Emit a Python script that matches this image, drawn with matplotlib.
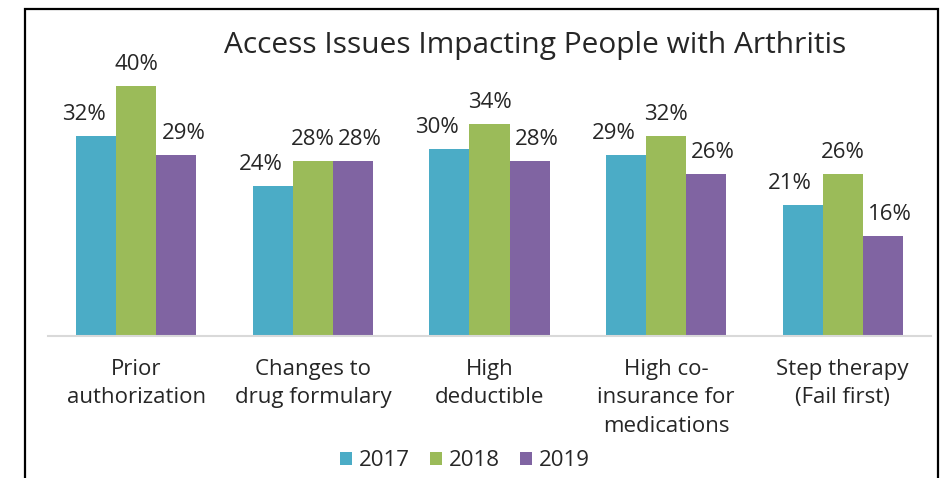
import matplotlib
matplotlib.use('Agg')
import matplotlib.pyplot as plt
from matplotlib.patches import Rectangle
import numpy as np

W, H = 944, 478
FONT = 'Open Sans'

categories = ['Prior\nauthorization', 'Changes to\ndrug formulary', 'High\ndeductible',
              'High co-\ninsurance for\nmedications', 'Step therapy\n(Fail first)']
years = ['2017', '2018', '2019']
v2017 = [32, 24, 30, 29, 21]
v2018 = [40, 28, 34, 32, 26]
v2019 = [29, 28, 28, 26, 16]
colors = ['#4BACC6', '#9BBB59', '#8064A2']

plt.rcParams['font.family'] = [FONT, 'DejaVu Sans']
fig = plt.figure(figsize=(W / 100, H / 100), dpi=100)

# axes placed in pixel terms
left, right, base, top = 48, 931, 335.5, 335.5 - 45 * 6.225
ax = fig.add_axes([left / W, 1 - base / H, (right - left) / W, (base - top) / H])

x = np.arange(len(categories))
bw = 0.227
label_dx = [-0.07, 0.0, 0.04]  # labels nudged like in the original
for i, (vals, c) in enumerate(zip([v2017, v2018, v2019], colors)):
    pos = x + (i - 1) * bw
    ax.bar(pos, vals, bw, color=c, label=years[i])
    for p, v in zip(pos, vals):
        ax.annotate(f'{v}%', (p + label_dx[i], v), xytext=(0, 8), textcoords='offset points',
                    ha='center', va='bottom', fontsize=16, color='#262626')

ax.set_xlim(-0.5, len(categories) - 0.5)
ax.set_ylim(0, 45)
ax.set_yticks([])
ax.set_xticks(x)
ax.set_xticklabels(categories, fontsize=16, color='#262626', linespacing=1.45)
ax.tick_params(axis='x', length=0, pad=17)
for s in ['top', 'left', 'right']:
    ax.spines[s].set_visible(False)
ax.spines['bottom'].set_color('#D9D9D9')
ax.spines['bottom'].set_linewidth(1.5)

fig.text(535.5 / W, 1 - 53 / H, 'Access Issues Impacting People with Arthritis',
         ha='center', va='baseline', fontsize=21.5, color='#262626')

leg = fig.legend(loc='center', bbox_to_anchor=(465 / W, 1 - 461 / H), ncol=3, frameon=False,
                 fontsize=16, handlelength=0.55, handleheight=0.55, handletextpad=0.3,
                 columnspacing=0.9)
for t in leg.get_texts():
    t.set_color('#262626')

fig.patches.append(Rectangle((24.5 / W, -0.05), (938 - 24.5) / W, 1.05 - 9.5 / H,
                             transform=fig.transFigure, fill=False, edgecolor='black',
                             linewidth=1.6))

fig.savefig('out.png', dpi=100)
